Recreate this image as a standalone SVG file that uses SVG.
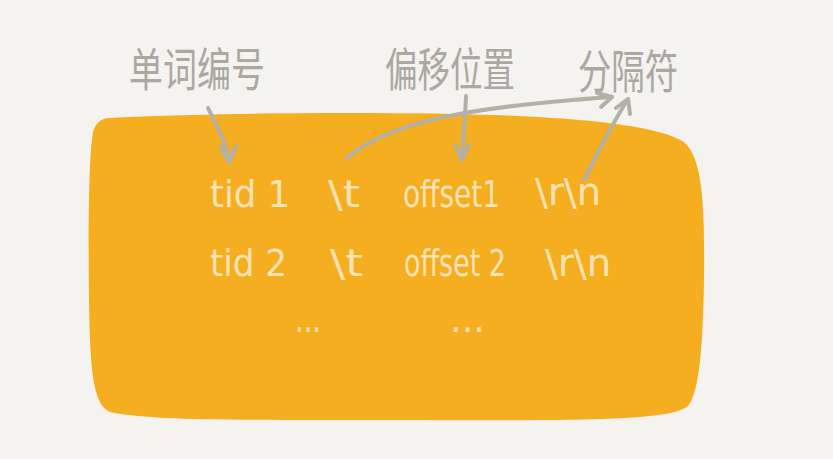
<svg xmlns="http://www.w3.org/2000/svg" width="833" height="459" viewBox="0 0 833 459">
<style>
.lbl{font-family:"Noto Sans CJK SC","Noto Sans",sans-serif;font-size:46px;fill:#aaa8a0;font-weight:400}
.cell{font-family:"DejaVu Sans Condensed","Liberation Sans",sans-serif;font-size:38px;fill:#fbe3b6}
.arr{fill:none;stroke:#b3b0a7;stroke-width:4;stroke-linecap:round;stroke-linejoin:round}
</style>
<rect width="833" height="459" fill="#f4f3ef"/>
<g id="block">
<path d="M108,118 C200,113 400,111 520,116 C600,120 660,127 684,142 C702,158 705,200 704,280 C703,340 700,392 688,406 C670,420 600,421 400,420 C250,420 150,421 110,412 C93,405 90,370 89,300 C88,220 89,155 93,132 C96,122 101,119 108,118 Z" fill="#f5ae20"/>
</g>
<g id="label-tid"><text class="lbl" x="197" y="86" text-anchor="middle" textLength="136" lengthAdjust="spacingAndGlyphs">单词编号</text></g>
<g id="label-offset"><text class="lbl" x="450" y="86" text-anchor="middle" textLength="130" lengthAdjust="spacingAndGlyphs">偏移位置</text></g>
<g id="label-sep"><text class="lbl" x="628" y="88" text-anchor="middle" textLength="100" lengthAdjust="spacingAndGlyphs">分隔符</text></g>
<g id="rows">
<text class="cell" x="210" y="207" textLength="80" lengthAdjust="spacingAndGlyphs">tid 1</text>
<text class="cell" x="328" y="207" textLength="32" lengthAdjust="spacingAndGlyphs">\t</text>
<text class="cell" x="403" y="207" textLength="97" lengthAdjust="spacingAndGlyphs">offset1</text>
<text class="cell" x="535" y="205" textLength="66" lengthAdjust="spacingAndGlyphs">\r\n</text>
<text class="cell" x="210" y="276" textLength="77" lengthAdjust="spacingAndGlyphs">tid 2</text>
<text class="cell" x="330" y="276" textLength="33" lengthAdjust="spacingAndGlyphs">\t</text>
<text class="cell" x="404" y="276" textLength="102" lengthAdjust="spacingAndGlyphs">offset 2</text>
<text class="cell" x="545" y="276" textLength="66" lengthAdjust="spacingAndGlyphs">\r\n</text>
<text class="cell" x="295" y="332" textLength="26" lengthAdjust="spacingAndGlyphs">...</text>
<text class="cell" x="450" y="332" textLength="35" lengthAdjust="spacingAndGlyphs">...</text>
</g>
<g id="connectors">
<path class="arr" d="M208,108 C218,128 226,142 229,162"/>
<path class="arr" d="M221,147 L229,162 L236,146"/>
<path class="arr" d="M466,96 C465,120 463,140 462,160"/>
<path class="arr" d="M455,145 L462,160 L469,145"/>
<path class="arr" d="M347,158 C390,120 480,106 612,97"/>
<path class="arr" d="M597,93 L612,97 L601,107"/>
<path class="arr" d="M584,180 C598,152 612,124 628,99"/>
<path class="arr" d="M616,108 L628,99 L630,114"/>
</g>
</svg>
